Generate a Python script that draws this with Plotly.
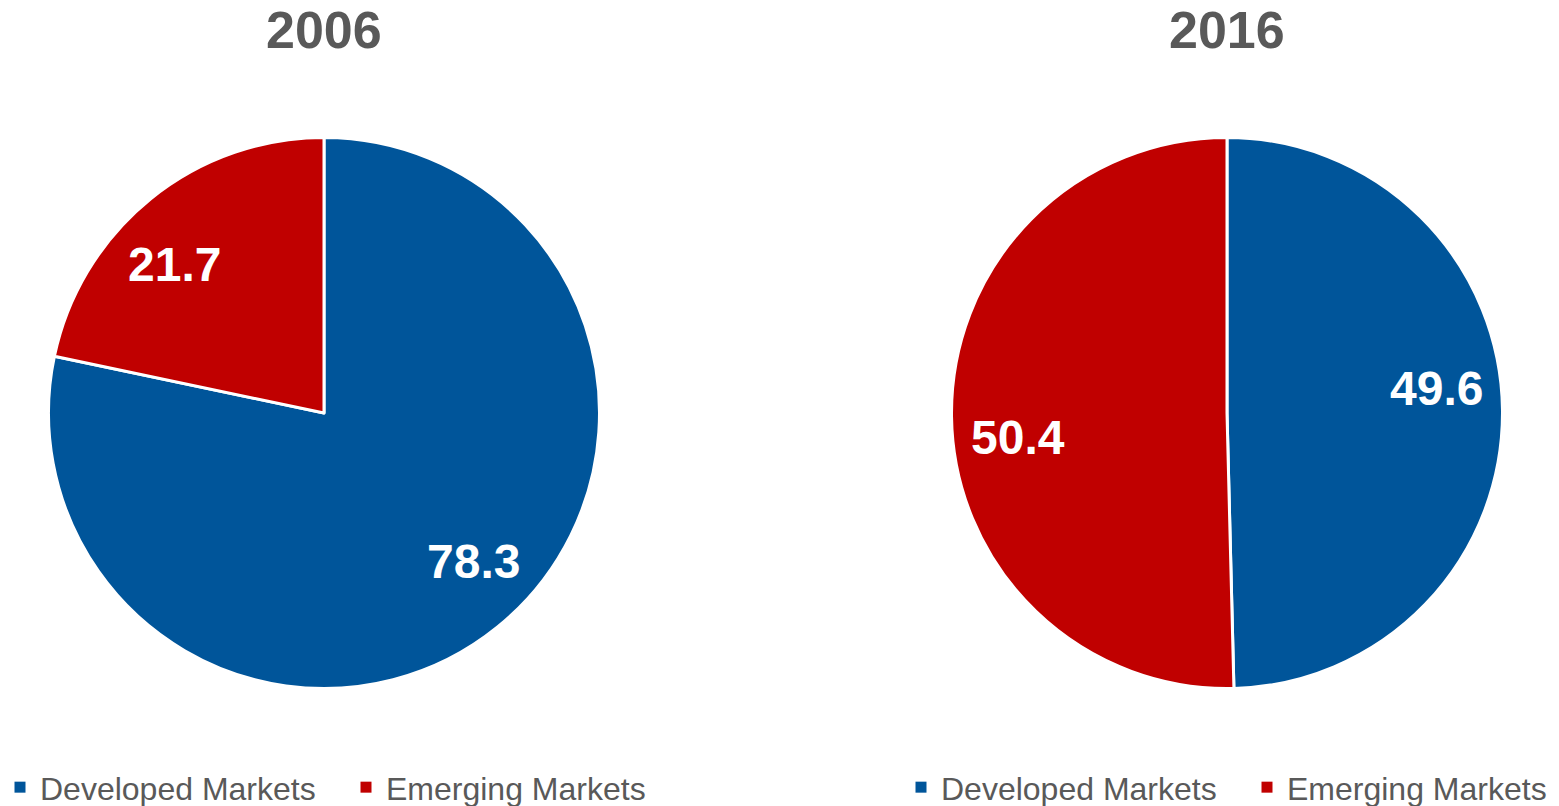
import math
import plotly.graph_objects as go

# ---- data ----
categories = ["Developed Markets", "Emerging Markets"]
years = ["2006", "2016"]
values_2006 = [78.3, 21.7]
values_2016 = [49.6, 50.4]
colors = ["#00559A", "#C00000"]

W, H = 1559, 806
FONT = "Liberation Sans, Arial, sans-serif"

# pie geometry (pixels)
centers_px = [(324, 413), (1227, 413)]
radius_px = 275.5

fig = go.Figure()
annotations = []
legend_names = ["legend", "legend2"]

for i, (year, vals) in enumerate(zip(years, [values_2006, values_2016])):
    cx, cy = centers_px[i]
    dom_x = [(cx - radius_px) / W, (cx + radius_px) / W]
    dom_y = [1 - (cy + radius_px) / H, 1 - (cy - radius_px) / H]
    fig.add_trace(go.Pie(
        labels=categories,
        values=vals,
        sort=False,
        direction="clockwise",
        rotation=0,
        marker=dict(colors=colors, line=dict(color="white", width=3)),
        textinfo="none",
        hoverinfo="label+value",
        domain=dict(x=dom_x, y=dom_y),
        showlegend=False,
        name=year,
    ))
    # legend entries (one legend per pie)
    for cat, col in zip(categories, colors):
        fig.add_trace(go.Scatter(
            x=[None], y=[None], mode="markers", name=cat,
            marker=dict(symbol="square", size=11, color=col, line=dict(width=0)),
            legend=legend_names[i], showlegend=True, hoverinfo="skip",
        ))
    # title
    annotations.append(dict(
        text=f"<b>{year}</b>", x=cx / W, y=1 - 30 / H, xref="paper", yref="paper",
        xanchor="center", yanchor="middle", showarrow=False,
        font=dict(family=FONT, size=52, color="#595959"),
    ))
    # value labels
    total = sum(vals)
    cum = 0
    for v in vals:
        mid = 2 * math.pi * (cum + v / 2) / total - math.radians(6)
        cum += v
        lx = cx + 0.765 * radius_px * math.sin(mid)
        ly = cy - 0.765 * radius_px * math.cos(mid)
        annotations.append(dict(
            text=f"<b>{v:.1f}</b>", x=lx / W, y=1 - ly / H, xref="paper", yref="paper",
            xanchor="center", yanchor="middle", showarrow=False,
            font=dict(family=FONT, size=48, color="white"),
        ))

legend_common = dict(
    orientation="h", yanchor="bottom", y=-0.011, xanchor="left",
    font=dict(family=FONT, size=32, color="#595959"),
    bgcolor="rgba(0,0,0,0)", entrywidth=301, entrywidthmode="pixels",
    itemclick=False, itemdoubleclick=False,
)

fig.update_layout(
    width=W, height=H,
    margin=dict(l=0, r=0, t=0, b=0, autoexpand=False),
    paper_bgcolor="white", plot_bgcolor="white",
    annotations=annotations,
    xaxis=dict(visible=False), yaxis=dict(visible=False),
    legend=dict(x=0.0, **legend_common),
    legend2=dict(x=901 / W, **legend_common),
)

fig.write_html("out.html")
